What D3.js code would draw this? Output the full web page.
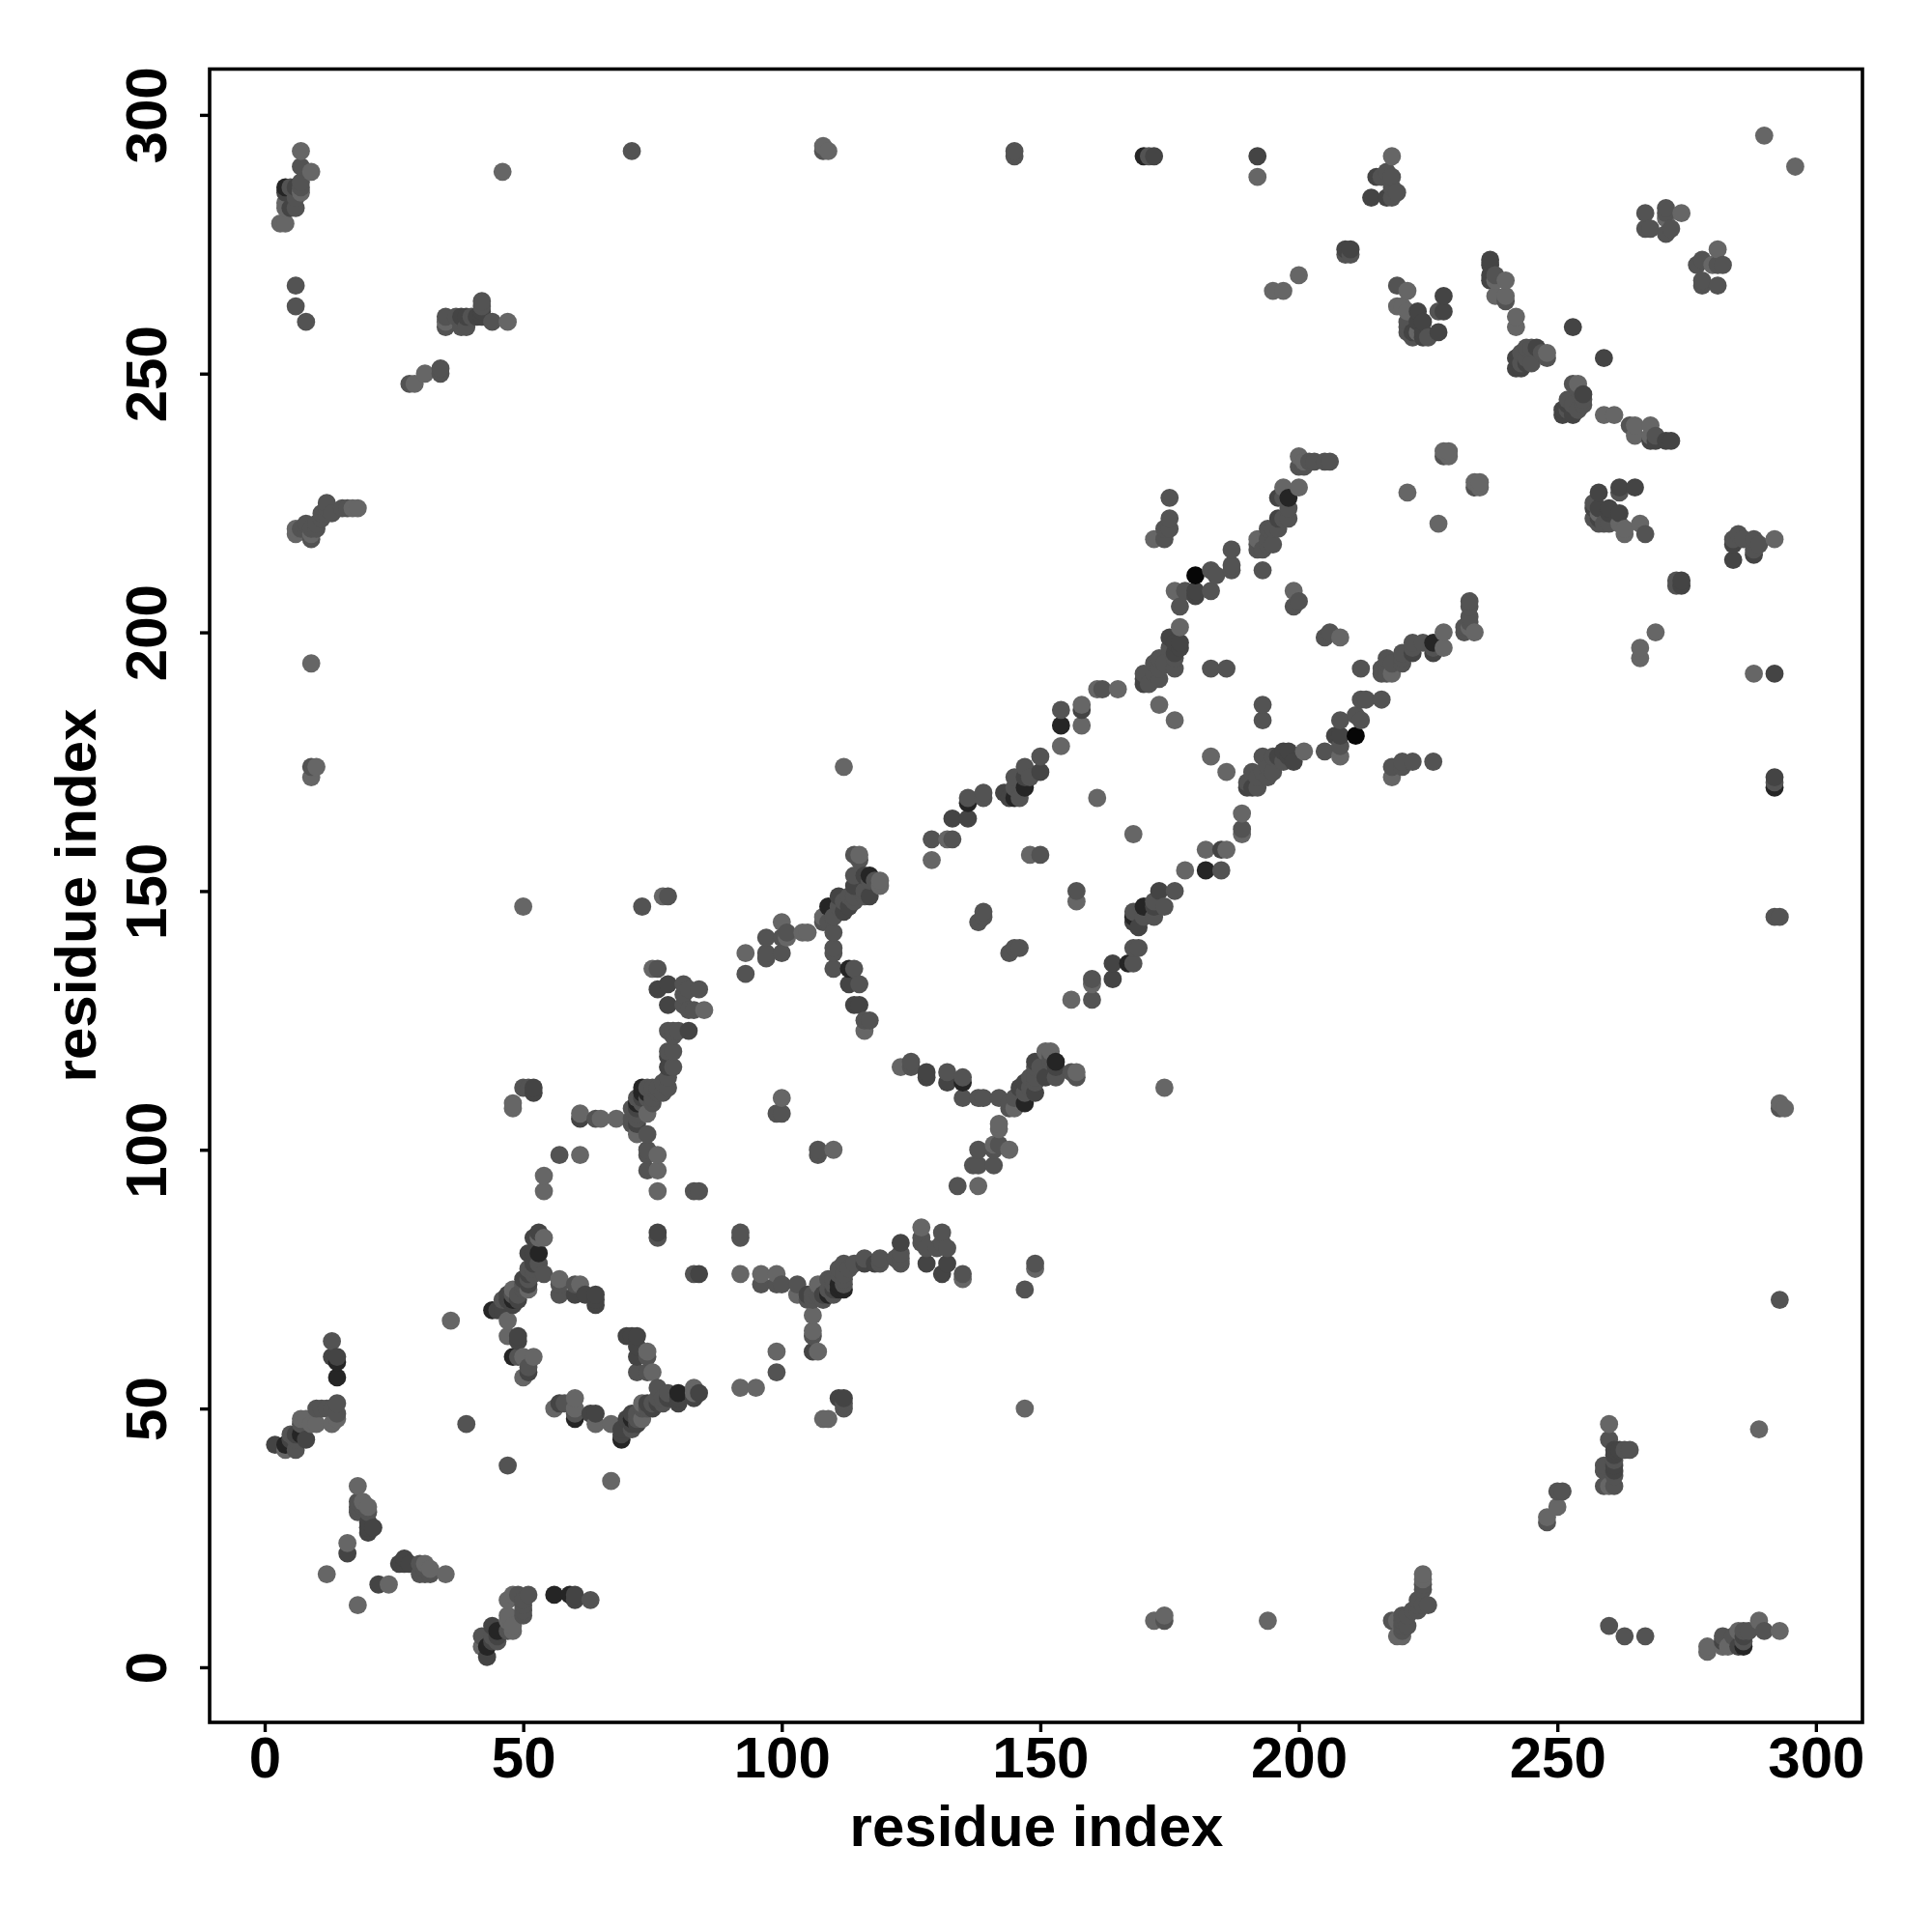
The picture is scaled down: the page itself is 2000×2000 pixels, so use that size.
<!DOCTYPE html>
<html><head><meta charset="utf-8">
<script src="https://cdn.jsdelivr.net/npm/d3@7/dist/d3.min.js"></script>
<style>html,body{margin:0;padding:0;background:#fff}svg{display:block}text{font-family:"Liberation Sans",Arial,sans-serif;font-weight:700;fill:#000}</style>
</head><body><svg id="chart" width="2000" height="2000"></svg>
<script>
// Contact pairs (i<j); the matrix is symmetric, each pair shows at (i,j) and (j,i).
const contactsLight = [[4,42],[8,44],[7,48],[8,48],[9,47],[10,47],[13,47],[13,60],[14,48],[18,35],[19,32],[20,31],[16,24],[12,18],[36,67],[47,67],[47,64],[50,56],[52,60],[50,60],[61,74],[51,73],[48,73],[57,75],[54,92],[54,95],[61,99],[61,107],[65,106],[68,106],[48,108],[48,109],[72,103],[74,107],[75,135],[76,92],[85,127],[76,96],[76,99],[52,83],[53,83],[54,83],[93,138],[97,137],[100,144],[101,141],[104,142],[105,142],[110,135],[114,135],[115,132],[115,128],[116,123],[116,150],[119,151],[115,157],[115,156],[108,145],[110,142],[129,156],[129,160],[132,160],[148,157],[100,144],[144,100],[104,142],[100,110],[110,100],[138,144],[161,168],[173,186],[176,183],[112,174],[50,147],[77,149],[165,189],[161,189],[158,186],[158,182],[154,178],[177,201],[176,208],[175,226],[174,218],[172,218],[200,228],[201,233],[205,233],[206,233],[200,234],[197,228],[187,216],[187,213],[193,212],[199,208],[208,199],[200,269],[195,266],[197,266],[221,227],[228,234],[228,235],[229,234],[229,235],[218,292],[218,288],[7,293],[9,289],[6,286],[7,285],[4,283],[3,279],[4,279],[8,260],[9,194],[9,172],[10,174],[47,260],[44,260],[31,250],[29,248],[35,260],[6,219],[18,224],[17,224],[46,289],[9,172],[172,9],[174,10],[174,9],[9,194],[8,260],[221,266],[223,258],[219,267],[219,263],[221,262],[240,264],[238,265],[240,268],[242,261],[242,259],[248,254],[246,255],[259,242],[261,242],[240,265],[238,268],[237,268],[267,281],[274,281],[272,278],[271,280],[271,282],[274,281],[218,292],[290,296],[192,288],[289,46],[46,289],[260,47],[44,260],[259,35],[261,35],[250,31],[248,29],[293,7],[290,7],[289,9],[279,3],[279,4],[282,4],[283,4],[224,18],[219,9],[220,6],[172,9],[174,10],[194,9],[108,294],[109,293],[228,200],[228,197],[234,200],[233,206],[220,194],[218,192],[216,193],[292,218],[293,109],[294,108],[288,192],[265,238],[268,240],[268,238],[263,220],[263,219],[266,221],[267,219],[228,262],[6,267],[234,228],[235,229],[153,114],[157,115],[157,114],[152,119],[142,104],[144,100],[138,93],[134,93]];
const contactsMid = [[2,43],[5,45],[6,42],[6,44],[7,47],[10,50],[11,50],[12,50],[13,50],[14,51],[14,49],[13,63],[18,32],[18,31],[18,30],[19,31],[20,30],[20,28],[21,27],[39,47],[20,27],[46,71],[48,72],[49,72],[50,73],[50,74],[51,75],[51,77],[52,77],[54,76],[52,76],[53,78],[49,60],[51,58],[51,57],[57,74],[57,72],[60,74],[61,106],[64,106],[57,99],[83,92],[84,92],[76,83],[76,84],[74,99],[74,100],[74,96],[71,106],[71,108],[72,106],[74,103],[78,123],[79,123],[80,123],[79,122],[78,119],[79,119],[79,116],[78,114],[77,113],[76,112],[75,112],[74,112],[74,110],[75,110],[77,111],[78,128],[81,128],[82,127],[83,127],[81,130],[81,132],[78,132],[82,131],[84,131],[76,135],[50,112],[51,112],[93,134],[97,138],[97,141],[100,138],[101,142],[110,139],[110,138],[114,128],[117,125],[115,156],[114,157],[114,153],[116,153],[118,152],[113,149],[111,147],[109,147],[112,148],[114,149],[116,149],[110,145],[109,144],[71,105],[72,107],[73,109],[75,109],[76,111],[72,110],[78,112],[110,135],[114,135],[116,125],[128,115],[132,115],[135,114],[135,110],[138,110],[139,110],[142,110],[144,108],[147,109],[147,111],[148,114],[149,114],[150,116],[152,117],[157,114],[141,97],[142,101],[138,100],[137,97],[138,97],[141,100],[100,107],[99,107],[107,100],[73,147],[78,149],[150,157],[139,146],[139,145],[150,176],[150,173],[147,174],[147,172],[148,172],[145,172],[145,170],[146,168],[139,169],[139,168],[136,168],[129,160],[133,160],[154,185],[158,185],[162,189],[183,193],[186,193],[175,222],[175,220],[174,220],[187,212],[176,193],[173,195],[172,194],[173,193],[172,192],[170,192],[171,190],[173,191],[174,194],[176,195],[176,196],[175,197],[178,208],[177,205],[184,211],[183,212],[183,208],[199,205],[200,206],[200,232],[201,232],[203,233],[198,224],[197,222],[194,220],[192,217],[194,218],[195,217],[193,216],[192,216],[232,200],[233,205],[233,202],[220,196],[220,195],[217,195],[217,194],[222,198],[216,187],[213,187],[212,193],[218,174],[220,175],[222,175],[226,175],[145,292],[145,293],[170,292],[171,292],[172,292],[215,288],[216,288],[218,286],[219,285],[217,284],[218,284],[7,290],[7,287],[4,286],[5,286],[6,284],[5,282],[6,282],[6,263],[9,174],[35,259],[35,261],[38,259],[39,259],[44,260],[34,251],[34,250],[28,248],[42,264],[7,220],[8,221],[9,220],[9,218],[10,220],[10,221],[11,222],[11,223],[12,224],[15,224],[71,293],[108,293],[192,292],[293,71],[146,139],[145,139],[144,138],[219,267],[221,259],[221,260],[222,258],[224,260],[223,262],[224,257],[225,257],[222,257],[221,258],[228,262],[227,262],[238,269],[240,264],[243,252],[244,253],[245,255],[247,254],[243,254],[243,251],[251,243],[252,245],[253,242],[253,248],[255,244],[267,278],[268,278],[271,277],[278,272],[277,271],[281,271],[282,271],[278,268],[278,267],[281,267],[219,285],[217,289],[288,218],[285,219],[289,217],[288,215],[284,217],[292,170],[292,171],[292,192],[253,259],[259,38],[261,38],[261,37],[259,39],[261,40],[263,42],[264,42],[260,44],[250,34],[251,34],[248,28],[224,16],[224,15],[225,12],[223,12],[222,11],[221,10],[221,8],[220,9],[223,13],[220,8],[260,8],[263,6],[267,6],[282,6],[284,6],[286,7],[286,5],[209,273],[210,273],[196,220],[196,222],[226,197],[234,228],[233,206]];
const contactsDark = [[45,69],[46,69],[48,70],[47,71],[49,71],[51,74],[50,75],[13,60],[2,43],[14,60],[16,22],[20,26],[21,27],[20,28],[20,27],[51,76],[52,78],[49,64],[49,63],[47,72],[51,57],[57,51],[60,72],[62,72],[64,71],[64,72],[64,70],[49,64],[53,84],[61,106],[52,83],[76,131],[78,128],[82,123],[78,116],[78,118],[72,108],[73,110],[72,105],[52,112],[52,111],[51,80],[52,80],[78,132],[113,132],[115,128],[116,153],[113,147],[114,151],[112,146],[111,149],[128,114],[132,113],[135,113],[146,112],[147,113],[149,117],[136,167],[133,164],[136,164],[145,168],[143,169],[150,173],[147,172],[158,185],[154,182],[175,199],[177,198],[176,198],[176,196],[170,191],[170,190],[177,197],[180,208],[180,207],[196,226],[196,222],[222,196],[226,198],[209,274],[210,274],[237,269],[228,262],[227,258],[228,265],[224,258],[223,260],[237,272],[253,242],[255,246],[251,242],[243,251],[244,252],[253,259],[259,253],[272,237],[268,237],[271,237],[258,227],[265,228],[258,222],[257,224],[260,224],[262,223],[284,214],[288,215],[5,44],[6,45],[38,261],[39,261],[41,261],[42,261],[42,262],[4,286],[6,286],[214,284],[215,288],[42,261],[144,168],[76,131],[84,76],[115,128],[192,292],[292,172],[217,284],[16,22],[5,282],[4,285],[44,8]];
const contactsDarker = [[4,43],[14,59],[14,56],[7,45],[44,69],[53,80],[48,60],[73,112],[73,111],[113,135],[72,109],[109,147],[117,153],[136,167],[154,182],[147,170],[145,168],[198,226],[292,170],[286,4],[48,71],[153,117],[74,111]];
const contactsBlack = [[180,211]];
const axisTicks = [0,50,100,150,200,250,300];
const axisLabel = "residue index";

const shadeRows = [[contactsBlack,"#060606"],[contactsDarker,"#252525"],[contactsDark,"#444444"],[contactsMid,"#535353"],[contactsLight,"#666666"]];
const seen = new Map();
shadeRows.forEach(([rows,color])=>rows.forEach(([i,j])=>{
  const a=Math.min(i,j), b=Math.max(i,j), key=a+"_"+b;
  if(!seen.has(key)) seen.set(key,{a,b,color});
}));
const marks = [];
seen.forEach(({a,b,color})=>{marks.push({x:a,y:b,color});marks.push({x:b,y:a,color});});
marks.sort((p,q)=>d3.ascending(p.x,q.x)||d3.ascending(p.y,q.y));

const svg = d3.select("#chart");
const x = d3.scaleLinear().domain([-10.65,309]).range([217,1928]);
const y = d3.scaleLinear().domain([-10.65,308.85]).range([1783,71.5]);

svg.append("g").selectAll("circle").data(marks).join("circle")
  .attr("cx",d=>x(d.x)).attr("cy",d=>y(d.y)).attr("r",9.4).attr("fill",d=>d.color);

const gx = svg.append("g").attr("transform","translate(0,1783)")
  .call(d3.axisBottom(x).tickValues(axisTicks).tickSize(10).tickPadding(14));
gx.select(".domain").remove();
gx.selectAll("line").attr("stroke","#000").attr("stroke-width",3.4);
gx.selectAll("text").attr("font-size",60).attr("fill","#000").attr("dy",null).attr("y",null)
  .attr("dominant-baseline","alphabetic").attr("transform","translate(0,57)");

const gy = svg.append("g").attr("transform","translate(217,0)")
  .call(d3.axisLeft(y).tickValues(axisTicks).tickSize(10).tickPadding(14));
gy.select(".domain").remove();
gy.selectAll("line").attr("stroke","#000").attr("stroke-width",3.4);
gy.selectAll("text").attr("font-size",60).attr("fill","#000")
  .attr("x",null).attr("dy",null).attr("text-anchor","middle")
  .attr("transform","translate(-45,0) rotate(-90)");

svg.append("rect").attr("x",217).attr("y",71.5).attr("width",1711).attr("height",1711.5)
  .attr("fill","none").attr("stroke","#000").attr("stroke-width",3.6);

svg.append("text").attr("x",1073).attr("y",1911).attr("text-anchor","middle").attr("font-size",60).text(axisLabel);
svg.append("text").attr("transform","translate(99,927) rotate(-90)").attr("text-anchor","middle").attr("font-size",60).text(axisLabel);
</script></body></html>
